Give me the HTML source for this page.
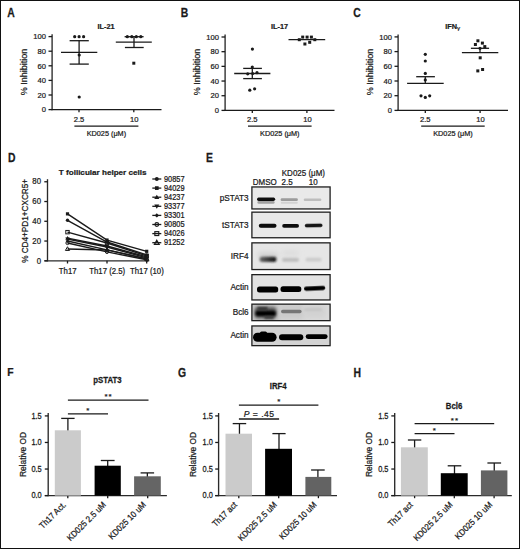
<!DOCTYPE html>
<html><head><meta charset="utf-8"><title>Figure</title>
<style>
html,body{margin:0;padding:0;background:#fff;}
body{width:520px;height:549px;overflow:hidden;}
svg{display:block;font-family:"Liberation Sans", sans-serif;}
text{stroke:#1a1a1a;stroke-width:0.22px;}
</style></head><body>
<svg width="520" height="549" viewBox="0 0 520 549">
<rect x="0.5" y="0.5" width="519" height="548" fill="#fff" stroke="#111" stroke-width="1"/>
<text transform="translate(7.20 16.70) scale(1 1.15)" font-size="10.4" font-weight="bold" fill="#1a1a1a">A</text>
<line x1="52.10" y1="34.20" x2="52.10" y2="110.20" stroke="#2a2a2a" stroke-width="1.35"/>
<line x1="51.50" y1="109.60" x2="161.50" y2="109.60" stroke="#1a1a1a" stroke-width="1.3"/>
<line x1="48.50" y1="109.60" x2="52.10" y2="109.60" stroke="#1a1a1a" stroke-width="1.3"/>
<text transform="translate(45.90 112.30) scale(1 1.06)" font-size="7.6" text-anchor="end" fill="#1a1a1a">0</text>
<line x1="48.50" y1="95.00" x2="52.10" y2="95.00" stroke="#1a1a1a" stroke-width="1.3"/>
<text transform="translate(45.90 97.70) scale(1 1.06)" font-size="7.6" text-anchor="end" fill="#1a1a1a">20</text>
<line x1="48.50" y1="80.40" x2="52.10" y2="80.40" stroke="#1a1a1a" stroke-width="1.3"/>
<text transform="translate(45.90 83.10) scale(1 1.06)" font-size="7.6" text-anchor="end" fill="#1a1a1a">40</text>
<line x1="48.50" y1="65.80" x2="52.10" y2="65.80" stroke="#1a1a1a" stroke-width="1.3"/>
<text transform="translate(45.90 68.50) scale(1 1.06)" font-size="7.6" text-anchor="end" fill="#1a1a1a">60</text>
<line x1="48.50" y1="51.20" x2="52.10" y2="51.20" stroke="#1a1a1a" stroke-width="1.3"/>
<text transform="translate(45.90 53.90) scale(1 1.06)" font-size="7.6" text-anchor="end" fill="#1a1a1a">80</text>
<line x1="48.50" y1="36.60" x2="52.10" y2="36.60" stroke="#1a1a1a" stroke-width="1.3"/>
<text transform="translate(45.90 39.30) scale(1 1.06)" font-size="7.6" text-anchor="end" fill="#1a1a1a">100</text>
<line x1="79.00" y1="109.60" x2="79.00" y2="112.20" stroke="#1a1a1a" stroke-width="1.3"/>
<text x="79.00" y="121.50" font-size="7.6" text-anchor="middle" fill="#1a1a1a">2.5</text>
<line x1="133.80" y1="109.60" x2="133.80" y2="112.20" stroke="#1a1a1a" stroke-width="1.3"/>
<text x="134.30" y="121.50" font-size="7.6" text-anchor="middle" fill="#1a1a1a">10</text>
<line x1="74.40" y1="126.10" x2="138.40" y2="126.10" stroke="#1a1a1a" stroke-width="1.3"/>
<text transform="translate(106.40 135.60) scale(1 1.1)" font-size="7.3" text-anchor="middle" fill="#1a1a1a">KD025 (μM)</text>
<text x="106.00" y="29.30" font-size="7.3" text-anchor="middle" font-weight="bold" fill="#1a1a1a">IL-21</text>
<text transform="translate(27.00 71.90) rotate(-90) scale(1 1.05)" font-size="9.0" text-anchor="middle" fill="#1a1a1a">% Inhibition</text>
<circle cx="74.70" cy="36.70" r="1.6" fill="#1a1a1a"/>
<circle cx="79.10" cy="36.70" r="1.6" fill="#1a1a1a"/>
<circle cx="83.60" cy="36.70" r="1.6" fill="#1a1a1a"/>
<circle cx="79.20" cy="55.00" r="1.6" fill="#1a1a1a"/>
<circle cx="79.20" cy="97.00" r="1.6" fill="#1a1a1a"/>
<line x1="61.00" y1="52.40" x2="97.30" y2="52.40" stroke="#1a1a1a" stroke-width="1.3"/>
<line x1="69.60" y1="40.70" x2="88.80" y2="40.70" stroke="#1a1a1a" stroke-width="1.3"/>
<line x1="69.60" y1="64.10" x2="88.80" y2="64.10" stroke="#1a1a1a" stroke-width="1.3"/>
<line x1="79.10" y1="40.70" x2="79.10" y2="64.10" stroke="#1a1a1a" stroke-width="1.3"/>
<line x1="124.60" y1="36.70" x2="143.60" y2="36.70" stroke="#1a1a1a" stroke-width="1.3"/>
<circle cx="127.30" cy="36.70" r="1.6" fill="#1a1a1a"/>
<circle cx="131.80" cy="36.70" r="1.6" fill="#1a1a1a"/>
<circle cx="136.30" cy="36.70" r="1.6" fill="#1a1a1a"/>
<circle cx="140.80" cy="36.70" r="1.6" fill="#1a1a1a"/>
<line x1="115.80" y1="42.20" x2="151.80" y2="42.20" stroke="#1a1a1a" stroke-width="1.3"/>
<line x1="124.90" y1="47.50" x2="143.70" y2="47.50" stroke="#1a1a1a" stroke-width="1.3"/>
<line x1="134.00" y1="36.70" x2="134.00" y2="47.50" stroke="#1a1a1a" stroke-width="1.3"/>
<rect x="132.30" y="61.70" width="3.0" height="3.0" fill="#1a1a1a"/>
<text transform="translate(180.80 16.70) scale(1 1.15)" font-size="10.4" font-weight="bold" fill="#1a1a1a">B</text>
<line x1="225.10" y1="34.60" x2="225.10" y2="111.00" stroke="#2a2a2a" stroke-width="1.35"/>
<line x1="224.50" y1="110.40" x2="334.50" y2="110.40" stroke="#1a1a1a" stroke-width="1.3"/>
<line x1="221.50" y1="110.40" x2="225.10" y2="110.40" stroke="#1a1a1a" stroke-width="1.3"/>
<text transform="translate(218.90 113.10) scale(1 1.06)" font-size="7.6" text-anchor="end" fill="#1a1a1a">0</text>
<line x1="221.50" y1="95.72" x2="225.10" y2="95.72" stroke="#1a1a1a" stroke-width="1.3"/>
<text transform="translate(218.90 98.42) scale(1 1.06)" font-size="7.6" text-anchor="end" fill="#1a1a1a">20</text>
<line x1="221.50" y1="81.04" x2="225.10" y2="81.04" stroke="#1a1a1a" stroke-width="1.3"/>
<text transform="translate(218.90 83.74) scale(1 1.06)" font-size="7.6" text-anchor="end" fill="#1a1a1a">40</text>
<line x1="221.50" y1="66.36" x2="225.10" y2="66.36" stroke="#1a1a1a" stroke-width="1.3"/>
<text transform="translate(218.90 69.06) scale(1 1.06)" font-size="7.6" text-anchor="end" fill="#1a1a1a">60</text>
<line x1="221.50" y1="51.68" x2="225.10" y2="51.68" stroke="#1a1a1a" stroke-width="1.3"/>
<text transform="translate(218.90 54.38) scale(1 1.06)" font-size="7.6" text-anchor="end" fill="#1a1a1a">80</text>
<line x1="221.50" y1="37.00" x2="225.10" y2="37.00" stroke="#1a1a1a" stroke-width="1.3"/>
<text transform="translate(218.90 39.70) scale(1 1.06)" font-size="7.6" text-anchor="end" fill="#1a1a1a">100</text>
<line x1="252.30" y1="110.40" x2="252.30" y2="113.00" stroke="#1a1a1a" stroke-width="1.3"/>
<text x="252.30" y="121.50" font-size="7.6" text-anchor="middle" fill="#1a1a1a">2.5</text>
<line x1="306.90" y1="110.40" x2="306.90" y2="113.00" stroke="#1a1a1a" stroke-width="1.3"/>
<text x="307.40" y="121.50" font-size="7.6" text-anchor="middle" fill="#1a1a1a">10</text>
<line x1="248.00" y1="126.10" x2="311.60" y2="126.10" stroke="#1a1a1a" stroke-width="1.3"/>
<text transform="translate(279.80 135.60) scale(1 1.1)" font-size="7.3" text-anchor="middle" fill="#1a1a1a">KD025 (μM)</text>
<text x="279.60" y="29.30" font-size="7.3" text-anchor="middle" font-weight="bold" fill="#1a1a1a">IL-17</text>
<text transform="translate(200.10 71.90) rotate(-90) scale(1 1.05)" font-size="9.0" text-anchor="middle" fill="#1a1a1a">% Inhibition</text>
<circle cx="252.40" cy="49.10" r="1.6" fill="#1a1a1a"/>
<circle cx="252.30" cy="67.00" r="1.6" fill="#1a1a1a"/>
<circle cx="247.70" cy="73.80" r="1.6" fill="#1a1a1a"/>
<circle cx="252.70" cy="73.50" r="1.6" fill="#1a1a1a"/>
<circle cx="257.00" cy="72.70" r="1.6" fill="#1a1a1a"/>
<circle cx="249.80" cy="90.20" r="1.6" fill="#1a1a1a"/>
<circle cx="254.60" cy="88.80" r="1.6" fill="#1a1a1a"/>
<line x1="234.20" y1="73.50" x2="270.40" y2="73.50" stroke="#1a1a1a" stroke-width="1.3"/>
<line x1="243.20" y1="68.40" x2="261.90" y2="68.40" stroke="#1a1a1a" stroke-width="1.3"/>
<line x1="243.20" y1="78.60" x2="261.90" y2="78.60" stroke="#1a1a1a" stroke-width="1.3"/>
<line x1="252.30" y1="68.40" x2="252.30" y2="78.60" stroke="#1a1a1a" stroke-width="1.3"/>
<line x1="288.50" y1="39.70" x2="325.20" y2="39.70" stroke="#1a1a1a" stroke-width="1.3"/>
<rect x="301.20" y="35.60" width="3.0" height="3.0" fill="#1a1a1a"/>
<rect x="305.60" y="35.60" width="3.0" height="3.0" fill="#1a1a1a"/>
<rect x="309.90" y="35.60" width="3.0" height="3.0" fill="#1a1a1a"/>
<rect x="297.80" y="38.20" width="3.0" height="3.0" fill="#1a1a1a"/>
<rect x="313.30" y="38.20" width="3.0" height="3.0" fill="#1a1a1a"/>
<rect x="303.40" y="42.50" width="3.0" height="3.0" fill="#1a1a1a"/>
<rect x="308.20" y="40.80" width="3.0" height="3.0" fill="#1a1a1a"/>
<text transform="translate(353.30 16.80) scale(1 1.15)" font-size="10.4" font-weight="bold" fill="#1a1a1a">C</text>
<line x1="398.10" y1="34.50" x2="398.10" y2="111.00" stroke="#2a2a2a" stroke-width="1.35"/>
<line x1="397.50" y1="110.40" x2="508.00" y2="110.40" stroke="#1a1a1a" stroke-width="1.3"/>
<line x1="394.50" y1="110.40" x2="398.10" y2="110.40" stroke="#1a1a1a" stroke-width="1.3"/>
<text transform="translate(391.90 113.10) scale(1 1.06)" font-size="7.6" text-anchor="end" fill="#1a1a1a">0</text>
<line x1="394.50" y1="95.70" x2="398.10" y2="95.70" stroke="#1a1a1a" stroke-width="1.3"/>
<text transform="translate(391.90 98.40) scale(1 1.06)" font-size="7.6" text-anchor="end" fill="#1a1a1a">20</text>
<line x1="394.50" y1="81.00" x2="398.10" y2="81.00" stroke="#1a1a1a" stroke-width="1.3"/>
<text transform="translate(391.90 83.70) scale(1 1.06)" font-size="7.6" text-anchor="end" fill="#1a1a1a">40</text>
<line x1="394.50" y1="66.30" x2="398.10" y2="66.30" stroke="#1a1a1a" stroke-width="1.3"/>
<text transform="translate(391.90 69.00) scale(1 1.06)" font-size="7.6" text-anchor="end" fill="#1a1a1a">60</text>
<line x1="394.50" y1="51.60" x2="398.10" y2="51.60" stroke="#1a1a1a" stroke-width="1.3"/>
<text transform="translate(391.90 54.30) scale(1 1.06)" font-size="7.6" text-anchor="end" fill="#1a1a1a">80</text>
<line x1="394.50" y1="36.90" x2="398.10" y2="36.90" stroke="#1a1a1a" stroke-width="1.3"/>
<text transform="translate(391.90 39.60) scale(1 1.06)" font-size="7.6" text-anchor="end" fill="#1a1a1a">100</text>
<line x1="425.30" y1="110.40" x2="425.30" y2="113.00" stroke="#1a1a1a" stroke-width="1.3"/>
<text x="425.30" y="121.50" font-size="7.6" text-anchor="middle" fill="#1a1a1a">2.5</text>
<line x1="480.10" y1="110.40" x2="480.10" y2="113.00" stroke="#1a1a1a" stroke-width="1.3"/>
<text x="480.60" y="121.50" font-size="7.6" text-anchor="middle" fill="#1a1a1a">10</text>
<line x1="421.20" y1="126.10" x2="484.70" y2="126.10" stroke="#1a1a1a" stroke-width="1.3"/>
<text transform="translate(452.95 135.60) scale(1 1.1)" font-size="7.3" text-anchor="middle" fill="#1a1a1a">KD025 (μM)</text>
<text x="452.60" y="29.30" font-size="7.3" text-anchor="middle" font-weight="bold" fill="#1a1a1a">IFN<tspan font-size="6.2" font-weight="normal" dy="0.6">γ</tspan></text>
<text transform="translate(373.00 71.90) rotate(-90) scale(1 1.05)" font-size="9.0" text-anchor="middle" fill="#1a1a1a">% Inhibition</text>
<circle cx="425.30" cy="54.30" r="1.6" fill="#1a1a1a"/>
<circle cx="425.30" cy="61.00" r="1.6" fill="#1a1a1a"/>
<circle cx="425.30" cy="73.40" r="1.6" fill="#1a1a1a"/>
<circle cx="425.30" cy="79.90" r="1.6" fill="#1a1a1a"/>
<circle cx="421.00" cy="95.80" r="1.6" fill="#1a1a1a"/>
<circle cx="425.30" cy="97.40" r="1.6" fill="#1a1a1a"/>
<circle cx="429.70" cy="95.80" r="1.6" fill="#1a1a1a"/>
<line x1="416.20" y1="76.70" x2="434.90" y2="76.70" stroke="#1a1a1a" stroke-width="1.3"/>
<line x1="407.10" y1="83.40" x2="443.70" y2="83.40" stroke="#1a1a1a" stroke-width="1.3"/>
<line x1="425.30" y1="76.70" x2="425.30" y2="83.40" stroke="#1a1a1a" stroke-width="1.3"/>
<rect x="476.40" y="39.30" width="3.0" height="3.0" fill="#1a1a1a"/>
<rect x="480.90" y="41.60" width="3.0" height="3.0" fill="#1a1a1a"/>
<rect x="473.90" y="43.00" width="3.0" height="3.0" fill="#1a1a1a"/>
<rect x="483.30" y="45.10" width="3.0" height="3.0" fill="#1a1a1a"/>
<rect x="478.70" y="56.30" width="3.0" height="3.0" fill="#1a1a1a"/>
<rect x="476.30" y="69.40" width="3.0" height="3.0" fill="#1a1a1a"/>
<rect x="481.10" y="68.00" width="3.0" height="3.0" fill="#1a1a1a"/>
<circle cx="480.00" cy="48.30" r="1.6" fill="#1a1a1a"/>
<line x1="470.90" y1="48.30" x2="489.10" y2="48.30" stroke="#1a1a1a" stroke-width="1.3"/>
<line x1="461.90" y1="52.70" x2="498.30" y2="52.70" stroke="#1a1a1a" stroke-width="1.3"/>
<line x1="480.00" y1="48.30" x2="480.00" y2="52.70" stroke="#1a1a1a" stroke-width="1.3"/>
<text transform="translate(7.90 161.70) scale(1 1.15)" font-size="10.4" font-weight="bold" fill="#1a1a1a">D</text>
<text x="58.80" y="175.00" font-size="8.1" text-anchor="start" font-weight="bold" fill="#1a1a1a">T follicular helper cells</text>
<line x1="47.50" y1="179.20" x2="47.50" y2="261.40" stroke="#2a2a2a" stroke-width="1.35"/>
<line x1="44.50" y1="260.80" x2="149.20" y2="260.80" stroke="#2a2a2a" stroke-width="1.35"/>
<line x1="44.30" y1="260.80" x2="47.50" y2="260.80" stroke="#1a1a1a" stroke-width="1.3"/>
<text transform="translate(41.00 263.50) scale(1 1.06)" font-size="7.8" text-anchor="end" fill="#1a1a1a">0</text>
<line x1="44.30" y1="241.04" x2="47.50" y2="241.04" stroke="#1a1a1a" stroke-width="1.3"/>
<text transform="translate(41.00 243.74) scale(1 1.06)" font-size="7.8" text-anchor="end" fill="#1a1a1a">20</text>
<line x1="44.30" y1="221.28" x2="47.50" y2="221.28" stroke="#1a1a1a" stroke-width="1.3"/>
<text transform="translate(41.00 223.98) scale(1 1.06)" font-size="7.8" text-anchor="end" fill="#1a1a1a">40</text>
<line x1="44.30" y1="201.52" x2="47.50" y2="201.52" stroke="#1a1a1a" stroke-width="1.3"/>
<text transform="translate(41.00 204.22) scale(1 1.06)" font-size="7.8" text-anchor="end" fill="#1a1a1a">60</text>
<line x1="44.30" y1="181.76" x2="47.50" y2="181.76" stroke="#1a1a1a" stroke-width="1.3"/>
<text transform="translate(41.00 184.46) scale(1 1.06)" font-size="7.8" text-anchor="end" fill="#1a1a1a">80</text>
<line x1="67.50" y1="260.80" x2="67.50" y2="263.50" stroke="#1a1a1a" stroke-width="1.3"/>
<text transform="translate(67.70 273.70) scale(1 1.1)" font-size="7.8" text-anchor="middle" fill="#1a1a1a">Th17</text>
<line x1="107.00" y1="260.80" x2="107.00" y2="263.50" stroke="#1a1a1a" stroke-width="1.3"/>
<text transform="translate(107.20 273.70) scale(1 1.1)" font-size="7.8" text-anchor="middle" fill="#1a1a1a">Th17 (2.5)</text>
<line x1="146.70" y1="260.80" x2="146.70" y2="263.50" stroke="#1a1a1a" stroke-width="1.3"/>
<text transform="translate(146.90 273.70) scale(1 1.1)" font-size="7.8" text-anchor="middle" fill="#1a1a1a">Th17 (10)</text>
<text transform="translate(27.60 220.90) rotate(-90) scale(1 1.18)" font-size="8.2" text-anchor="middle" fill="#1a1a1a">% CD4+PD1+CXCR5+</text>
<polyline points="67.50,220.29 107.00,242.03 146.70,254.87" fill="none" stroke="#1a1a1a" stroke-width="1.4"/>
<polyline points="67.50,213.87 107.00,240.05 146.70,251.32" fill="none" stroke="#1a1a1a" stroke-width="1.4"/>
<polyline points="67.50,238.08 107.00,245.98 146.70,256.85" fill="none" stroke="#1a1a1a" stroke-width="1.4"/>
<polyline points="67.50,239.06 107.00,246.97 146.70,257.84" fill="none" stroke="#1a1a1a" stroke-width="1.4"/>
<polyline points="67.50,241.04 107.00,249.93 146.70,258.82" fill="none" stroke="#1a1a1a" stroke-width="1.4"/>
<polyline points="67.50,243.02 107.00,251.91 146.70,259.81" fill="none" stroke="#1a1a1a" stroke-width="1.4"/>
<polyline points="67.50,232.15 107.00,243.02 146.70,255.86" fill="none" stroke="#1a1a1a" stroke-width="1.4"/>
<polyline points="67.50,248.94 107.00,249.93 146.70,258.82" fill="none" stroke="#1a1a1a" stroke-width="1.4"/>
<g transform="translate(67.50 220.29) scale(1.0)"><circle r="1.7" fill="#1a1a1a"/></g>
<g transform="translate(107.00 242.03) scale(1.0)"><circle r="1.7" fill="#1a1a1a"/></g>
<g transform="translate(146.70 254.87) scale(1.0)"><circle r="1.7" fill="#1a1a1a"/></g>
<g transform="translate(67.50 213.87) scale(1.0)"><rect x="-1.6" y="-1.6" width="3.2" height="3.2" fill="#1a1a1a"/></g>
<g transform="translate(107.00 240.05) scale(1.0)"><rect x="-1.6" y="-1.6" width="3.2" height="3.2" fill="#1a1a1a"/></g>
<g transform="translate(146.70 251.32) scale(1.0)"><rect x="-1.6" y="-1.6" width="3.2" height="3.2" fill="#1a1a1a"/></g>
<g transform="translate(67.50 238.08) scale(1.0)"><path d="M0 -2.2 L2.2 1.6 L-2.2 1.6Z" fill="#1a1a1a"/></g>
<g transform="translate(107.00 245.98) scale(1.0)"><path d="M0 -2.2 L2.2 1.6 L-2.2 1.6Z" fill="#1a1a1a"/></g>
<g transform="translate(146.70 256.85) scale(1.0)"><path d="M0 -2.2 L2.2 1.6 L-2.2 1.6Z" fill="#1a1a1a"/></g>
<g transform="translate(67.50 239.06) scale(1.0)"><path d="M0 2.2 L2.2 -1.6 L-2.2 -1.6Z" fill="#1a1a1a"/></g>
<g transform="translate(107.00 246.97) scale(1.0)"><path d="M0 2.2 L2.2 -1.6 L-2.2 -1.6Z" fill="#1a1a1a"/></g>
<g transform="translate(146.70 257.84) scale(1.0)"><path d="M0 2.2 L2.2 -1.6 L-2.2 -1.6Z" fill="#1a1a1a"/></g>
<g transform="translate(67.50 241.04) scale(1.0)"><path d="M0 -1.9 L1.9 0 L0 1.9 L-1.9 0Z" fill="#1a1a1a"/></g>
<g transform="translate(107.00 249.93) scale(1.0)"><path d="M0 -1.9 L1.9 0 L0 1.9 L-1.9 0Z" fill="#1a1a1a"/></g>
<g transform="translate(146.70 258.82) scale(1.0)"><path d="M0 -1.9 L1.9 0 L0 1.9 L-1.9 0Z" fill="#1a1a1a"/></g>
<g transform="translate(67.50 243.02) scale(1.0)"><circle r="1.6" fill="none" stroke="#1a1a1a" stroke-width="1"/></g>
<g transform="translate(107.00 251.91) scale(1.0)"><circle r="1.6" fill="none" stroke="#1a1a1a" stroke-width="1"/></g>
<g transform="translate(146.70 259.81) scale(1.0)"><circle r="1.6" fill="none" stroke="#1a1a1a" stroke-width="1"/></g>
<g transform="translate(67.50 232.15) scale(1.0)"><rect x="-1.7" y="-1.7" width="3.4" height="3.4" fill="none" stroke="#1a1a1a" stroke-width="1"/></g>
<g transform="translate(107.00 243.02) scale(1.0)"><rect x="-1.7" y="-1.7" width="3.4" height="3.4" fill="none" stroke="#1a1a1a" stroke-width="1"/></g>
<g transform="translate(146.70 255.86) scale(1.0)"><rect x="-1.7" y="-1.7" width="3.4" height="3.4" fill="none" stroke="#1a1a1a" stroke-width="1"/></g>
<g transform="translate(67.50 248.94) scale(1.0)"><path d="M0 -2.2 L2.1 1.5 L-2.1 1.5Z" fill="none" stroke="#1a1a1a" stroke-width="1"/></g>
<g transform="translate(107.00 249.93) scale(1.0)"><path d="M0 -2.2 L2.1 1.5 L-2.1 1.5Z" fill="none" stroke="#1a1a1a" stroke-width="1"/></g>
<g transform="translate(146.70 258.82) scale(1.0)"><path d="M0 -2.2 L2.1 1.5 L-2.1 1.5Z" fill="none" stroke="#1a1a1a" stroke-width="1"/></g>
<line x1="152.30" y1="179.00" x2="161.30" y2="179.00" stroke="#1a1a1a" stroke-width="1.3"/>
<g transform="translate(156.80 179.00) scale(1.15)"><circle r="1.7" fill="#1a1a1a"/></g>
<text transform="translate(164.00 181.75) scale(1 1.1)" font-size="7.4" text-anchor="start" fill="#1a1a1a">90857</text>
<line x1="152.30" y1="188.10" x2="161.30" y2="188.10" stroke="#1a1a1a" stroke-width="1.3"/>
<g transform="translate(156.80 188.10) scale(1.15)"><rect x="-1.6" y="-1.6" width="3.2" height="3.2" fill="#1a1a1a"/></g>
<text transform="translate(164.00 190.85) scale(1 1.1)" font-size="7.4" text-anchor="start" fill="#1a1a1a">94029</text>
<line x1="152.30" y1="197.20" x2="161.30" y2="197.20" stroke="#1a1a1a" stroke-width="1.3"/>
<g transform="translate(156.80 197.20) scale(1.15)"><path d="M0 -2.2 L2.2 1.6 L-2.2 1.6Z" fill="#1a1a1a"/></g>
<text transform="translate(164.00 199.95) scale(1 1.1)" font-size="7.4" text-anchor="start" fill="#1a1a1a">94237</text>
<line x1="152.30" y1="206.30" x2="161.30" y2="206.30" stroke="#1a1a1a" stroke-width="1.3"/>
<g transform="translate(156.80 206.30) scale(1.15)"><path d="M0 2.2 L2.2 -1.6 L-2.2 -1.6Z" fill="#1a1a1a"/></g>
<text transform="translate(164.00 209.05) scale(1 1.1)" font-size="7.4" text-anchor="start" fill="#1a1a1a">93377</text>
<line x1="152.30" y1="215.40" x2="161.30" y2="215.40" stroke="#1a1a1a" stroke-width="1.3"/>
<g transform="translate(156.80 215.40) scale(1.15)"><path d="M0 -1.9 L1.9 0 L0 1.9 L-1.9 0Z" fill="#1a1a1a"/></g>
<text transform="translate(164.00 218.15) scale(1 1.1)" font-size="7.4" text-anchor="start" fill="#1a1a1a">93301</text>
<line x1="152.30" y1="224.50" x2="161.30" y2="224.50" stroke="#1a1a1a" stroke-width="1.3"/>
<g transform="translate(156.80 224.50) scale(1.15)"><circle r="1.6" fill="none" stroke="#1a1a1a" stroke-width="1"/></g>
<text transform="translate(164.00 227.25) scale(1 1.1)" font-size="7.4" text-anchor="start" fill="#1a1a1a">90805</text>
<line x1="152.30" y1="233.60" x2="161.30" y2="233.60" stroke="#1a1a1a" stroke-width="1.3"/>
<g transform="translate(156.80 233.60) scale(1.15)"><rect x="-1.7" y="-1.7" width="3.4" height="3.4" fill="none" stroke="#1a1a1a" stroke-width="1"/></g>
<text transform="translate(164.00 236.35) scale(1 1.1)" font-size="7.4" text-anchor="start" fill="#1a1a1a">94026</text>
<line x1="152.30" y1="242.70" x2="161.30" y2="242.70" stroke="#1a1a1a" stroke-width="1.3"/>
<g transform="translate(156.80 242.70) scale(1.15)"><path d="M0 -2.2 L2.1 1.5 L-2.1 1.5Z" fill="none" stroke="#1a1a1a" stroke-width="1"/></g>
<text transform="translate(164.00 245.45) scale(1 1.1)" font-size="7.4" text-anchor="start" fill="#1a1a1a">91252</text>
<text transform="translate(205.90 161.70) scale(1 1.15)" font-size="10.4" font-weight="bold" fill="#1a1a1a">E</text>
<text transform="translate(303.40 175.50) scale(1 1.12)" font-size="8.0" text-anchor="middle" fill="#1a1a1a">KD025 (μM)</text>
<text transform="translate(252.80 184.80) scale(1 1.12)" font-size="8.0" text-anchor="start" fill="#1a1a1a">DMSO</text>
<text transform="translate(287.10 184.80) scale(1 1.12)" font-size="8.0" text-anchor="middle" fill="#1a1a1a">2.5</text>
<text transform="translate(313.20 184.80) scale(1 1.12)" font-size="8.0" text-anchor="middle" fill="#1a1a1a">10</text>
<defs><filter id="b04" x="-50%" y="-300%" width="200%" height="700%"><feGaussianBlur stdDeviation="0.45"/></filter><filter id="b07" x="-50%" y="-300%" width="200%" height="700%"><feGaussianBlur stdDeviation="0.7"/></filter><filter id="b10" x="-50%" y="-300%" width="200%" height="700%"><feGaussianBlur stdDeviation="1.0"/></filter><filter id="b15" x="-50%" y="-300%" width="200%" height="700%"><feGaussianBlur stdDeviation="1.5"/></filter><filter id="b25" x="-50%" y="-300%" width="200%" height="700%"><feGaussianBlur stdDeviation="2.5"/></filter><linearGradient id="irf" x1="0" x2="1" y1="0" y2="0"><stop offset="0" stop-color="#6a6a6a"/><stop offset="0.6" stop-color="#333"/><stop offset="1" stop-color="#111"/></linearGradient><clipPath id="cb5"><rect x="252" y="304.2" width="78" height="16.4"/></clipPath><clipPath id="cb6"><rect x="252" y="326" width="78" height="19.6"/></clipPath><clipPath id="cb3"><rect x="252" y="243" width="78" height="26.5"/></clipPath></defs>
<rect x="251.9" y="186.95" width="78.2" height="22.00" fill="#e9e9e9"/>
<rect x="251.9" y="212.15" width="78.2" height="25.60" fill="#e8e8e8"/>
<rect x="251.9" y="242.85" width="78.2" height="26.70" fill="#e6e6e6"/>
<rect x="251.9" y="274.65" width="78.2" height="25.30" fill="#e2e2e2"/>
<rect x="251.9" y="304.15" width="78.2" height="16.50" fill="#dadada"/>
<rect x="251.9" y="325.95" width="78.2" height="19.70" fill="#d3d3d3"/>
<rect x="257.40" y="201.00" width="17.20" height="2.80" rx="1.40" fill="#a2a2a2" filter="url(#b07)"/>
<rect x="257.00" y="197.50" width="18.20" height="3.40" rx="1.70" fill="#0e0e0e" filter="url(#b04)"/>
<rect x="280.80" y="201.80" width="17.00" height="2.00" rx="1.00" fill="#d2d2d2" filter="url(#b07)"/>
<rect x="280.60" y="198.30" width="17.30" height="2.80" rx="1.40" fill="#9c9c9c" filter="url(#b07)"/>
<rect x="303.70" y="198.40" width="17.70" height="2.60" rx="1.30" fill="#bdbdbd" filter="url(#b07)"/>
<rect x="258.80" y="223.70" width="17.70" height="4.00" rx="2.00" fill="#080808" filter="url(#b04)"/>
<rect x="282.20" y="224.10" width="16.80" height="3.60" rx="1.80" fill="#101010" filter="url(#b04)"/>
<rect x="304.80" y="223.65" width="17.70" height="3.50" rx="1.75" fill="#141414" filter="url(#b04)" transform="rotate(-1.2 313.6 225.4)"/>
<g clip-path="url(#cb3)">
<rect x="258.00" y="252.50" width="20.00" height="6.00" rx="2.50" fill="#d0d0d0" filter="url(#b25)"/>
<rect x="259.60" y="256.70" width="16.80" height="5.40" rx="2.50" fill="url(#irf)" filter="url(#b10)"/>
<rect x="282.00" y="257.70" width="17.00" height="4.00" rx="2.00" fill="#bdbdbd" filter="url(#b10)"/>
<rect x="282.00" y="250.50" width="17.00" height="5.00" rx="2.50" fill="#dcdcdc" filter="url(#b25)"/>
<rect x="305.50" y="257.80" width="16.10" height="3.80" rx="1.90" fill="#cbcbcb" filter="url(#b10)"/>
</g>
<rect x="257.00" y="286.40" width="21.20" height="6.00" rx="2.50" fill="#000" filter="url(#b04)"/>
<rect x="280.50" y="286.30" width="20.80" height="5.60" rx="2.50" fill="#000" filter="url(#b04)"/>
<rect x="304.00" y="286.20" width="21.20" height="4.20" rx="2.10" fill="#020202" filter="url(#b04)" transform="rotate(-2.5 314.6 288.3)"/>
<g clip-path="url(#cb5)">
<rect x="252.00" y="303.50" width="27.00" height="18.00" rx="2.50" fill="#b4b4b4" filter="url(#b25)"/>
<rect x="279.00" y="303.50" width="25.00" height="16.00" rx="2.50" fill="#cacaca" filter="url(#b25)"/>
<rect x="304.00" y="304.00" width="22.00" height="14.00" rx="2.50" fill="#d2d2d2" filter="url(#b25)"/>
<rect x="254.50" y="307.30" width="22.00" height="11.00" rx="4.00" fill="#5a5a5a" filter="url(#b15)"/>
<rect x="255.50" y="310.70" width="20.30" height="5.20" rx="2.50" fill="#050505" filter="url(#b10)"/>
<rect x="257.00" y="307.00" width="11.00" height="3.00" rx="1.50" fill="#333" filter="url(#b10)"/>
<rect x="264.00" y="316.00" width="10.00" height="3.00" rx="1.50" fill="#3a3a3a" filter="url(#b10)"/>
<rect x="281.00" y="309.80" width="20.60" height="3.40" rx="1.70" fill="#767676" filter="url(#b07)"/>
<rect x="304.00" y="308.40" width="18.00" height="2.40" rx="1.20" fill="#c2c2c2" filter="url(#b10)"/>
</g>
<g clip-path="url(#cb6)">
<rect x="253.00" y="332.70" width="23.60" height="9.00" rx="4.50" fill="#000" filter="url(#b07)"/>
<rect x="260.00" y="331.50" width="7.00" height="3.00" rx="1.50" fill="#000" filter="url(#b07)"/>
<rect x="279.00" y="334.30" width="24.30" height="6.00" rx="3.00" fill="#000" filter="url(#b07)"/>
<rect x="305.70" y="334.30" width="21.90" height="4.60" rx="2.30" fill="#000" filter="url(#b07)"/>
</g>
<rect x="251.9" y="186.95" width="78.2" height="22.00" fill="none" stroke="#1e1e1e" stroke-width="1.3"/>
<text transform="translate(248.60 201.00) scale(1 1.1)" font-size="8.2" text-anchor="end" fill="#1a1a1a">pSTAT3</text>
<rect x="251.9" y="212.15" width="78.2" height="25.60" fill="none" stroke="#1e1e1e" stroke-width="1.3"/>
<text transform="translate(248.60 227.90) scale(1 1.1)" font-size="8.2" text-anchor="end" fill="#1a1a1a">tSTAT3</text>
<rect x="251.9" y="242.85" width="78.2" height="26.70" fill="none" stroke="#1e1e1e" stroke-width="1.3"/>
<text transform="translate(248.60 258.80) scale(1 1.1)" font-size="8.2" text-anchor="end" fill="#1a1a1a">IRF4</text>
<rect x="251.9" y="274.65" width="78.2" height="25.30" fill="none" stroke="#1e1e1e" stroke-width="1.3"/>
<text transform="translate(248.60 289.80) scale(1 1.1)" font-size="8.2" text-anchor="end" fill="#1a1a1a">Actin</text>
<rect x="251.9" y="304.15" width="78.2" height="16.50" fill="none" stroke="#1e1e1e" stroke-width="1.3"/>
<text transform="translate(248.60 315.20) scale(1 1.1)" font-size="8.2" text-anchor="end" fill="#1a1a1a">Bcl6</text>
<rect x="251.9" y="325.95" width="78.2" height="19.70" fill="none" stroke="#1e1e1e" stroke-width="1.3"/>
<text transform="translate(248.60 337.80) scale(1 1.1)" font-size="8.2" text-anchor="end" fill="#1a1a1a">Actin</text>
<text transform="translate(7.30 376.10) scale(1 1.04)" font-size="10.4" font-weight="bold" fill="#1a1a1a">F</text>
<line x1="48.20" y1="413.00" x2="48.20" y2="496.20" stroke="#2a2a2a" stroke-width="1.35"/>
<line x1="44.80" y1="495.60" x2="166.90" y2="495.60" stroke="#2a2a2a" stroke-width="1.35"/>
<line x1="44.80" y1="495.60" x2="48.20" y2="495.60" stroke="#1a1a1a" stroke-width="1.3"/>
<text transform="translate(41.70 498.30) scale(1 1.14)" font-size="7.4" text-anchor="end" fill="#1a1a1a">0.0</text>
<line x1="44.80" y1="469.04" x2="48.20" y2="469.04" stroke="#1a1a1a" stroke-width="1.3"/>
<text transform="translate(41.70 471.74) scale(1 1.14)" font-size="7.4" text-anchor="end" fill="#1a1a1a">0.5</text>
<line x1="44.80" y1="442.47" x2="48.20" y2="442.47" stroke="#1a1a1a" stroke-width="1.3"/>
<text transform="translate(41.70 445.17) scale(1 1.14)" font-size="7.4" text-anchor="end" fill="#1a1a1a">1.0</text>
<line x1="44.80" y1="415.91" x2="48.20" y2="415.91" stroke="#1a1a1a" stroke-width="1.3"/>
<text transform="translate(41.70 418.61) scale(1 1.14)" font-size="7.4" text-anchor="end" fill="#1a1a1a">1.5</text>
<line x1="67.80" y1="495.60" x2="67.80" y2="498.20" stroke="#1a1a1a" stroke-width="1.3"/>
<text transform="translate(66.60 505.40) rotate(-45) scale(1 1.1)" font-size="8.0" text-anchor="end" fill="#1a1a1a">Th17 Act.</text>
<line x1="107.70" y1="495.60" x2="107.70" y2="498.20" stroke="#1a1a1a" stroke-width="1.3"/>
<text transform="translate(106.50 505.40) rotate(-45) scale(1 1.1)" font-size="8.0" text-anchor="end" fill="#1a1a1a">KD025 2.5 uM</text>
<line x1="147.70" y1="495.60" x2="147.70" y2="498.20" stroke="#1a1a1a" stroke-width="1.3"/>
<text transform="translate(146.50 505.40) rotate(-45) scale(1 1.1)" font-size="8.0" text-anchor="end" fill="#1a1a1a">KD025 10 uM</text>
<text transform="translate(107.40 382.60) scale(1 1.14)" font-size="7.8" text-anchor="middle" font-weight="bold" fill="#1a1a1a">pSTAT3</text>
<text transform="translate(25.60 454.50) rotate(-90) scale(1 1.12)" font-size="8.4" text-anchor="middle" fill="#1a1a1a">Relative OD</text>
<line x1="67.90" y1="418.40" x2="67.90" y2="431.30" stroke="#1a1a1a" stroke-width="1.3"/>
<line x1="61.20" y1="418.40" x2="74.60" y2="418.40" stroke="#1a1a1a" stroke-width="1.3"/>
<rect x="54.80" y="430.30" width="26.10" height="65.30" fill="#cbcbcb"/>
<line x1="107.70" y1="460.50" x2="107.70" y2="466.70" stroke="#1a1a1a" stroke-width="1.3"/>
<line x1="100.80" y1="460.50" x2="114.60" y2="460.50" stroke="#1a1a1a" stroke-width="1.3"/>
<rect x="94.60" y="465.70" width="26.20" height="29.90" fill="#000"/>
<line x1="147.35" y1="472.90" x2="147.35" y2="477.30" stroke="#1a1a1a" stroke-width="1.3"/>
<line x1="140.60" y1="472.90" x2="154.10" y2="472.90" stroke="#1a1a1a" stroke-width="1.3"/>
<rect x="134.10" y="476.30" width="26.70" height="19.30" fill="#656565"/>
<line x1="67.90" y1="400.10" x2="148.50" y2="400.10" stroke="#1a1a1a" stroke-width="1.3"/>
<line x1="67.90" y1="413.90" x2="108.00" y2="413.90" stroke="#1a1a1a" stroke-width="1.3"/>
<text x="108.50" y="399.30" font-size="8.0" text-anchor="middle" fill="#1a1a1a" letter-spacing="1">**</text>
<text x="87.90" y="413.40" font-size="8.0" text-anchor="middle" fill="#1a1a1a">*</text>
<text transform="translate(177.90 376.80) scale(1 1.15)" font-size="10.4" font-weight="bold" fill="#1a1a1a">G</text>
<line x1="218.60" y1="413.00" x2="218.60" y2="496.20" stroke="#2a2a2a" stroke-width="1.35"/>
<line x1="215.20" y1="495.60" x2="337.00" y2="495.60" stroke="#2a2a2a" stroke-width="1.35"/>
<line x1="215.20" y1="495.60" x2="218.60" y2="495.60" stroke="#1a1a1a" stroke-width="1.3"/>
<text transform="translate(212.80 498.30) scale(1 1.14)" font-size="7.4" text-anchor="end" fill="#1a1a1a">0.0</text>
<line x1="215.20" y1="469.04" x2="218.60" y2="469.04" stroke="#1a1a1a" stroke-width="1.3"/>
<text transform="translate(212.80 471.74) scale(1 1.14)" font-size="7.4" text-anchor="end" fill="#1a1a1a">0.5</text>
<line x1="215.20" y1="442.47" x2="218.60" y2="442.47" stroke="#1a1a1a" stroke-width="1.3"/>
<text transform="translate(212.80 445.17) scale(1 1.14)" font-size="7.4" text-anchor="end" fill="#1a1a1a">1.0</text>
<line x1="215.20" y1="415.91" x2="218.60" y2="415.91" stroke="#1a1a1a" stroke-width="1.3"/>
<text transform="translate(212.80 418.61) scale(1 1.14)" font-size="7.4" text-anchor="end" fill="#1a1a1a">1.5</text>
<line x1="238.80" y1="495.60" x2="238.80" y2="498.20" stroke="#1a1a1a" stroke-width="1.3"/>
<text transform="translate(237.60 505.40) rotate(-45) scale(1 1.1)" font-size="8.0" text-anchor="end" fill="#1a1a1a">Th17 act</text>
<line x1="278.70" y1="495.60" x2="278.70" y2="498.20" stroke="#1a1a1a" stroke-width="1.3"/>
<text transform="translate(277.50 505.40) rotate(-45) scale(1 1.1)" font-size="8.0" text-anchor="end" fill="#1a1a1a">KD025 2.5 uM</text>
<line x1="318.40" y1="495.60" x2="318.40" y2="498.20" stroke="#1a1a1a" stroke-width="1.3"/>
<text transform="translate(317.20 505.40) rotate(-45) scale(1 1.1)" font-size="8.0" text-anchor="end" fill="#1a1a1a">KD025 10 uM</text>
<text transform="translate(278.20 389.30) scale(1 1.14)" font-size="7.8" text-anchor="middle" font-weight="bold" fill="#1a1a1a">IRF4</text>
<text transform="translate(196.30 454.50) rotate(-90) scale(1 1.12)" font-size="8.4" text-anchor="middle" fill="#1a1a1a">Relative OD</text>
<line x1="239.45" y1="423.60" x2="239.45" y2="434.70" stroke="#1a1a1a" stroke-width="1.3"/>
<line x1="232.70" y1="423.60" x2="246.20" y2="423.60" stroke="#1a1a1a" stroke-width="1.3"/>
<rect x="225.50" y="433.70" width="26.50" height="61.90" fill="#cbcbcb"/>
<line x1="279.00" y1="433.60" x2="279.00" y2="449.80" stroke="#1a1a1a" stroke-width="1.3"/>
<line x1="272.40" y1="433.60" x2="285.60" y2="433.60" stroke="#1a1a1a" stroke-width="1.3"/>
<rect x="265.10" y="448.80" width="26.90" height="46.80" fill="#000"/>
<line x1="317.90" y1="470.00" x2="317.90" y2="477.90" stroke="#1a1a1a" stroke-width="1.3"/>
<line x1="311.10" y1="470.00" x2="324.70" y2="470.00" stroke="#1a1a1a" stroke-width="1.3"/>
<rect x="305.40" y="476.90" width="25.90" height="18.70" fill="#636363"/>
<line x1="238.90" y1="405.20" x2="318.40" y2="405.20" stroke="#1a1a1a" stroke-width="1.3"/>
<line x1="238.90" y1="419.00" x2="279.10" y2="419.00" stroke="#1a1a1a" stroke-width="1.3"/>
<text x="278.70" y="404.20" font-size="8.0" text-anchor="middle" fill="#1a1a1a">*</text>
<text x="243.8" y="416.9" font-size="8.6" letter-spacing="0.45" fill="#1a1a1a"><tspan font-style="italic">P</tspan> = .45</text>
<text transform="translate(353.50 376.70) scale(1 1.15)" font-size="10.4" font-weight="bold" fill="#1a1a1a">H</text>
<line x1="394.70" y1="413.00" x2="394.70" y2="496.20" stroke="#2a2a2a" stroke-width="1.35"/>
<line x1="391.30" y1="495.60" x2="511.80" y2="495.60" stroke="#2a2a2a" stroke-width="1.35"/>
<line x1="391.30" y1="495.60" x2="394.70" y2="495.60" stroke="#1a1a1a" stroke-width="1.3"/>
<text transform="translate(388.40 498.30) scale(1 1.14)" font-size="7.4" text-anchor="end" fill="#1a1a1a">0.0</text>
<line x1="391.30" y1="469.04" x2="394.70" y2="469.04" stroke="#1a1a1a" stroke-width="1.3"/>
<text transform="translate(388.40 471.74) scale(1 1.14)" font-size="7.4" text-anchor="end" fill="#1a1a1a">0.5</text>
<line x1="391.30" y1="442.47" x2="394.70" y2="442.47" stroke="#1a1a1a" stroke-width="1.3"/>
<text transform="translate(388.40 445.17) scale(1 1.14)" font-size="7.4" text-anchor="end" fill="#1a1a1a">1.0</text>
<line x1="391.30" y1="415.91" x2="394.70" y2="415.91" stroke="#1a1a1a" stroke-width="1.3"/>
<text transform="translate(388.40 418.61) scale(1 1.14)" font-size="7.4" text-anchor="end" fill="#1a1a1a">1.5</text>
<line x1="414.60" y1="495.60" x2="414.60" y2="498.20" stroke="#1a1a1a" stroke-width="1.3"/>
<text transform="translate(413.40 505.40) rotate(-45) scale(1 1.1)" font-size="8.0" text-anchor="end" fill="#1a1a1a">Th17 act</text>
<line x1="454.30" y1="495.60" x2="454.30" y2="498.20" stroke="#1a1a1a" stroke-width="1.3"/>
<text transform="translate(453.10 505.40) rotate(-45) scale(1 1.1)" font-size="8.0" text-anchor="end" fill="#1a1a1a">KD025 2.5 uM</text>
<line x1="494.10" y1="495.60" x2="494.10" y2="498.20" stroke="#1a1a1a" stroke-width="1.3"/>
<text transform="translate(492.90 505.40) rotate(-45) scale(1 1.1)" font-size="8.0" text-anchor="end" fill="#1a1a1a">KD025 10 uM</text>
<text transform="translate(454.00 408.60) scale(1 1.14)" font-size="7.8" text-anchor="middle" font-weight="bold" fill="#1a1a1a">Bcl6</text>
<text transform="translate(372.40 454.50) rotate(-90) scale(1 1.12)" font-size="8.4" text-anchor="middle" fill="#1a1a1a">Relative OD</text>
<line x1="414.60" y1="440.00" x2="414.60" y2="448.30" stroke="#1a1a1a" stroke-width="1.3"/>
<line x1="407.90" y1="440.00" x2="421.30" y2="440.00" stroke="#1a1a1a" stroke-width="1.3"/>
<rect x="400.90" y="447.30" width="26.90" height="48.30" fill="#cbcbcb"/>
<line x1="454.50" y1="465.80" x2="454.50" y2="474.20" stroke="#1a1a1a" stroke-width="1.3"/>
<line x1="447.70" y1="465.80" x2="461.30" y2="465.80" stroke="#1a1a1a" stroke-width="1.3"/>
<rect x="440.80" y="473.20" width="26.90" height="22.40" fill="#000"/>
<line x1="494.25" y1="463.00" x2="494.25" y2="471.40" stroke="#1a1a1a" stroke-width="1.3"/>
<line x1="487.40" y1="463.00" x2="501.10" y2="463.00" stroke="#1a1a1a" stroke-width="1.3"/>
<rect x="480.90" y="470.40" width="26.50" height="25.20" fill="#636363"/>
<line x1="414.60" y1="423.70" x2="494.20" y2="423.70" stroke="#1a1a1a" stroke-width="1.3"/>
<line x1="414.60" y1="433.70" x2="454.50" y2="433.70" stroke="#1a1a1a" stroke-width="1.3"/>
<text x="454.90" y="423.20" font-size="8.0" text-anchor="middle" fill="#1a1a1a" letter-spacing="1">**</text>
<text x="434.20" y="433.20" font-size="8.0" text-anchor="middle" fill="#1a1a1a">*</text>
</svg>
</body></html>
